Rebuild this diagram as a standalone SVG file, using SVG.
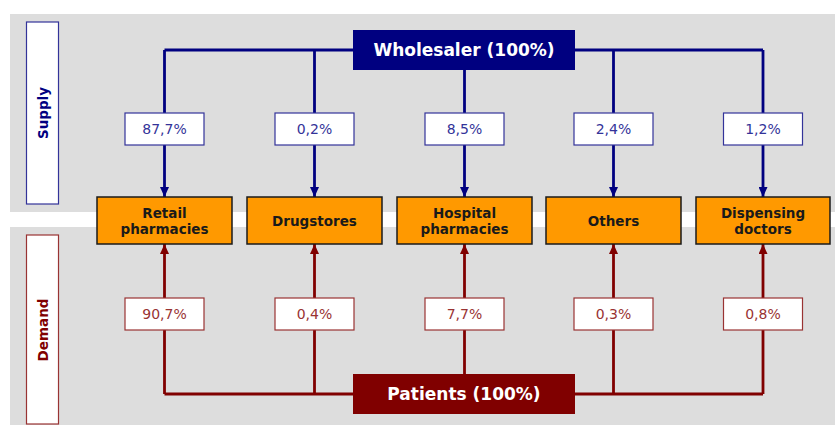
<svg xmlns="http://www.w3.org/2000/svg" width="835" height="426" viewBox="0 0 835 426">
<defs>
<marker id="arrS" viewBox="0 0 10 9" refX="10" refY="4.5" markerWidth="10" markerHeight="9" markerUnits="userSpaceOnUse" orient="auto"><path d="M0,0 L10,4.5 L0,9 z" fill="#000080"/></marker>
<marker id="arrD" viewBox="0 0 10 9" refX="10" refY="4.5" markerWidth="10" markerHeight="9" markerUnits="userSpaceOnUse" orient="auto"><path d="M0,0 L10,4.5 L0,9 z" fill="#800000"/></marker>
<style>
.band{fill:#DDDDDD}
.node rect{fill:#FF9900;stroke:#1a1a1a;stroke-width:1.5}
.node text{font-family:"DejaVu Sans",Verdana,sans-serif;font-weight:bold;font-size:13.5px;fill:#1a1a1a;text-anchor:middle}
.pctS rect{fill:#FFFFFF;stroke:#333399;stroke-width:1.2}
.pctS text{font-family:"DejaVu Sans",Verdana,sans-serif;font-size:14px;fill:#333399;text-anchor:middle}
.pctD rect{fill:#FFFFFF;stroke:#993333;stroke-width:1.2}
.pctD text{font-family:"DejaVu Sans",Verdana,sans-serif;font-size:14px;fill:#993333;text-anchor:middle}
.big text{font-family:"DejaVu Sans",Verdana,sans-serif;font-weight:bold;font-size:17px;fill:#FFFFFF;text-anchor:middle}
.lnS{fill:none;stroke:#000080;stroke-width:2.8}
.lnD{fill:none;stroke:#800000;stroke-width:2.8}
.side{font-family:"DejaVu Sans",Verdana,sans-serif;font-weight:bold;font-size:13.5px;text-anchor:middle}
</style>
</defs>
<rect class="band" x="10" y="14" width="825" height="198"/>
<rect class="band" x="10" y="227" width="825" height="198"/>
<g id="supply-label">
<rect x="26.5" y="22" width="32" height="182" fill="#FFFFFF" stroke="#333399" stroke-width="1.2"/>
<text class="side" transform="translate(47.5,113) rotate(-90)" fill="#000080">Supply</text>
</g>
<g id="demand-label">
<rect x="26.5" y="235" width="32" height="189" fill="#FFFFFF" stroke="#993333" stroke-width="1.2"/>
<text class="side" transform="translate(47.5,330) rotate(-90)" fill="#800000">Demand</text>
</g>
<g id="connectors">
<path class="lnS" d="M164.5,50 H763"/>
<path class="lnS" d="M164.5,50 V113 M314.5,50 V113 M613.5,50 V113 M763,50 V113"/>
<path class="lnS" stroke-width="2" d="M464.5,70 V113"/>
<path class="lnS" marker-end="url(#arrS)" d="M164.5,145 V197"/>
<path class="lnS" marker-end="url(#arrS)" d="M314.5,145 V197"/>
<path class="lnS" marker-end="url(#arrS)" d="M464.5,145 V197"/>
<path class="lnS" marker-end="url(#arrS)" d="M613.5,145 V197"/>
<path class="lnS" marker-end="url(#arrS)" d="M763,145 V197"/>
<path class="lnD" d="M164.5,394 H763"/>
<path class="lnD" d="M164.5,394 V330 M314.5,394 V330 M613.5,394 V330 M763,394 V330"/>
<path class="lnD" stroke-width="2" d="M464.5,374 V330"/>
<path class="lnD" marker-end="url(#arrD)" d="M164.5,298 V244"/>
<path class="lnD" marker-end="url(#arrD)" d="M314.5,298 V244"/>
<path class="lnD" marker-end="url(#arrD)" d="M464.5,298 V244"/>
<path class="lnD" marker-end="url(#arrD)" d="M613.5,298 V244"/>
<path class="lnD" marker-end="url(#arrD)" d="M763,298 V244"/>
</g>
<g id="wholesaler" class="big">
<rect x="353" y="30" width="222" height="40" fill="#000080"/>
<text x="464" y="56">Wholesaler (100%)</text>
</g>
<g id="patients" class="big">
<rect x="353" y="374" width="222" height="40" fill="#800000"/>
<text x="464" y="400">Patients (100%)</text>
</g>
<g id="s1" class="pctS"><rect x="125" y="113" width="79" height="32"/><text x="164.5" y="134">87,7%</text></g>
<g id="s2" class="pctS"><rect x="275" y="113" width="79" height="32"/><text x="314.5" y="134">0,2%</text></g>
<g id="s3" class="pctS"><rect x="425" y="113" width="79" height="32"/><text x="464.5" y="134">8,5%</text></g>
<g id="s4" class="pctS"><rect x="574" y="113" width="79" height="32"/><text x="613.5" y="134">2,4%</text></g>
<g id="s5" class="pctS"><rect x="723.5" y="113" width="79" height="32"/><text x="763" y="134">1,2%</text></g>
<g id="d1" class="pctD"><rect x="125" y="298" width="79" height="32"/><text x="164.5" y="319">90,7%</text></g>
<g id="d2" class="pctD"><rect x="275" y="298" width="79" height="32"/><text x="314.5" y="319">0,4%</text></g>
<g id="d3" class="pctD"><rect x="425" y="298" width="79" height="32"/><text x="464.5" y="319">7,7%</text></g>
<g id="d4" class="pctD"><rect x="574" y="298" width="79" height="32"/><text x="613.5" y="319">0,3%</text></g>
<g id="d5" class="pctD"><rect x="723.5" y="298" width="79" height="32"/><text x="763" y="319">0,8%</text></g>
<g id="retail" class="node"><rect x="97" y="197" width="135" height="47"/><text x="164.5" y="218">Retail</text><text x="164.5" y="234">pharmacies</text></g>
<g id="drugstores" class="node"><rect x="247" y="197" width="135" height="47"/><text x="314.5" y="226">Drugstores</text></g>
<g id="hospital" class="node"><rect x="397" y="197" width="135" height="47"/><text x="464.5" y="218">Hospital</text><text x="464.5" y="234">pharmacies</text></g>
<g id="others" class="node"><rect x="546" y="197" width="135" height="47"/><text x="613.5" y="226">Others</text></g>
<g id="dispensing" class="node"><rect x="696" y="197" width="134" height="47"/><text x="763" y="218">Dispensing</text><text x="763" y="234">doctors</text></g>
</svg>
